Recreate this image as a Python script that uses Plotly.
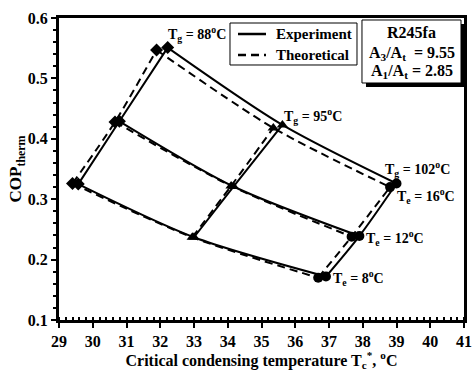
import plotly.graph_objects as go

# ---- data ----
tg_values = [88, 95, 102]          # generator temperature, degC
te_values = [8, 12, 16]            # evaporator temperature, degC
tg_symbols = ["diamond", "triangle-up", "circle"]

# rows: Tg (88, 95, 102); columns: Te (8, 12, 16)
exp_tc = [[29.57, 30.79, 32.22],
          [33.00, 34.17, 35.62],
          [36.91, 37.90, 39.00]]
exp_cop = [[0.325, 0.429, 0.551],
           [0.237, 0.321, 0.423],
           [0.172, 0.239, 0.326]]
theo_tc = [[29.40, 30.66, 31.89],
           [32.95, 34.10, 35.35],
           [36.68, 37.67, 38.81]]
theo_cop = [[0.326, 0.428, 0.547],
            [0.237, 0.322, 0.418],
            [0.170, 0.238, 0.320]]

x_ticks = [29, 30, 31, 32, 33, 34, 35, 36, 37, 38, 39, 40, 41]
y_ticks = [0.1, 0.2, 0.3, 0.4, 0.5, 0.6]
legend_names = ["Experiment", "Theoretical"]
info_lines = ["R245fa",
              "A<sub>3</sub>/A<sub>t</sub>&nbsp;&nbsp;= 9.55",
              "A<sub>1</sub>/A<sub>t</sub> = 2.85"]

FONT = "Liberation Serif"
DASH = "8px,5px"
fig = go.Figure()

def add_set(tc, cop, dash):
    # constant-Te curves (across Tg)
    for j in range(len(te_values)):
        fig.add_trace(go.Scatter(
            x=[tc[i][j] for i in range(len(tg_values))],
            y=[cop[i][j] for i in range(len(tg_values))],
            mode="lines", line=dict(color="black", width=2, dash=dash, shape="spline", smoothing=0.8),
            showlegend=False, hoverinfo="skip"))
    # constant-Tg curves (across Te) with markers
    for i in range(len(tg_values)):
        fig.add_trace(go.Scatter(
            x=tc[i], y=cop[i], mode="lines+markers",
            line=dict(color="black", width=2, dash=dash, shape="spline", smoothing=0.8),
            marker=dict(symbol=tg_symbols[i], size=10, color="black"),
            showlegend=False))

add_set(theo_tc, theo_cop, DASH)
add_set(exp_tc, exp_cop, "solid")

lab_font = dict(family=FONT, size=14, color="black")
ann = []
ann.append(dict(x=exp_tc[0][2], y=exp_cop[0][2], text="<b>T<sub>g</sub> = 88<sup>o</sup>C</b>",
                xanchor="left", yanchor="middle", xshift=-2, yshift=14, showarrow=False, font=lab_font))
ann.append(dict(x=exp_tc[1][2], y=exp_cop[1][2], text="<b>T<sub>g</sub> = 95<sup>o</sup>C</b>",
                xanchor="left", yanchor="middle", xshift=0, yshift=9, showarrow=False, font=lab_font))
ann.append(dict(x=exp_tc[2][2], y=exp_cop[2][2], text="<b>T<sub>g</sub> = 102<sup>o</sup>C</b>",
                xanchor="left", yanchor="middle", xshift=-14, yshift=15, showarrow=False, font=lab_font))
ann.append(dict(x=exp_tc[2][2], y=exp_cop[2][2], text="<b>T<sub>e</sub> = 16<sup>o</sup>C</b>",
                xanchor="left", yanchor="middle", xshift=-2, yshift=-12, showarrow=False, font=lab_font))
ann.append(dict(x=exp_tc[2][1], y=exp_cop[2][1], text="<b>T<sub>e</sub> = 12<sup>o</sup>C</b>",
                xanchor="left", yanchor="middle", xshift=5, yshift=-2, showarrow=False, font=lab_font))
ann.append(dict(x=exp_tc[2][0], y=exp_cop[2][0], text="<b>T<sub>e</sub> = 8<sup>o</sup>C</b>",
                xanchor="left", yanchor="middle", xshift=5, yshift=-1, showarrow=False, font=lab_font))

# plot area spans 405 px wide (x 59..464) and 302 px tall (y 18..320)
shapes = []
# ---- legend box (drawn by hand) ----
shapes.append(dict(type="rect", xref="paper", yref="paper", x0=0.4222, x1=0.7358, y0=0.8444, y1=0.9834,
                   line=dict(color="black", width=1), fillcolor="white", layer="above"))
leg_y = [0.9470, 0.8775]
leg_dash = ["solid", DASH]
for name, yy, dd in zip(legend_names, leg_y, leg_dash):
    shapes.append(dict(type="line", xref="paper", yref="paper", x0=0.4420, x1=0.5111, y0=yy, y1=yy,
                       line=dict(color="black", width=2.5, dash=dd), layer="above"))
    ann.append(dict(xref="paper", yref="paper", x=0.5309, y=yy, xanchor="left", yanchor="middle",
                    text=f"<b>{name}</b>", showarrow=False,
                    font=dict(family=FONT, size=15, color="black")))

# ---- info box with drop shadow ----
shapes.append(dict(type="rect", xref="paper", yref="paper", x0=0.7580, x1=1.0025, y0=0.7715, y1=0.9801,
                   line=dict(color="black", width=0), fillcolor="black", layer="above"))
shapes.append(dict(type="rect", xref="paper", yref="paper", x0=0.7481, x1=0.9926, y0=0.7848, y1=0.9934,
                   line=dict(color="black", width=1), fillcolor="white", layer="above"))
info_y = [0.9536, 0.8841, 0.8212]
for txt, yy in zip(info_lines, info_y):
    ann.append(dict(xref="paper", yref="paper", x=0.8704, y=yy, xanchor="center", yanchor="middle",
                    text=f"<b>{txt}</b>", showarrow=False,
                    font=dict(family=FONT, size=16, color="black")))

fig.update_layout(
    width=473, height=371,
    margin=dict(l=59, r=9, t=18, b=51),
    paper_bgcolor="white", plot_bgcolor="white",
    font=dict(family=FONT, size=14, color="black"),
    annotations=ann, shapes=shapes, showlegend=False,
)
fig.update_xaxes(range=[29, 41], tickvals=x_ticks, ticktext=[f"<b>{v}</b>" for v in x_ticks],
                 showgrid=False, zeroline=False, automargin=False, ticklabeloverflow="allow",
                 showline=True, linecolor="black", linewidth=3, mirror=True,
                 ticks="outside", ticklen=5, tickwidth=2, tickcolor="black",
                 minor=dict(dtick=0.2, ticks="inside", ticklen=3, tickwidth=2, tickcolor="black"),
                 tickfont=dict(family=FONT, size=16),
                 title=dict(text="<b>Critical condensing temperature T<sub>c</sub><sup>*</sup>, <sup>o</sup>C</b>",
                            font=dict(family=FONT, size=16), standoff=2))
fig.update_yaxes(range=[0.1, 0.6], tickvals=y_ticks, ticktext=[f"<b>{v:.1f}</b>" for v in y_ticks],
                 showgrid=False, zeroline=False, automargin=False, ticklabeloverflow="allow",
                 showline=True, linecolor="black", linewidth=3, mirror=True,
                 ticks="outside", ticklen=5, tickwidth=2, tickcolor="black",
                 minor=dict(dtick=0.02, ticks="outside", ticklen=3, tickwidth=2, tickcolor="black"),
                 tickfont=dict(family=FONT, size=16),
                 title=dict(text="<b>COP<sub>therm</sub></b>", font=dict(family=FONT, size=17),
                            standoff=2))

# remove the page's default 8px body margin so the figure fills the window exactly
fig.write_html("out.html",
               config={"displayModeBar": False},
               post_script="document.body.style.margin='0';"
                           "document.documentElement.style.overflow='hidden';"
                           "document.body.style.overflow='hidden';")
